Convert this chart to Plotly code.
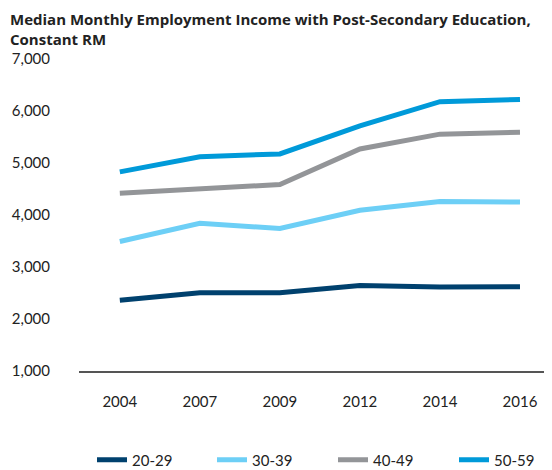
import plotly.graph_objects as go

years = ["2004", "2007", "2009", "2012", "2014", "2016"]
series_names = ["20-29", "30-39", "40-49", "50-59"]
age_20_29 = [2360, 2505, 2505, 2645, 2615, 2620]
age_30_39 = [3490, 3840, 3740, 4090, 4260, 4250]
age_40_49 = [4420, 4500, 4585, 5270, 5555, 5590]
age_50_59 = [4830, 5120, 5175, 5715, 6180, 6220]
y_ticks = [1000, 2000, 3000, 4000, 5000, 6000, 7000]
y_tick_labels = ["1,000", "2,000", "3,000", "4,000", "5,000", "6,000", "7,000"]
title_text = "<b>Median Monthly Employment Income with Post-Secondary Education,<br>Constant RM</b>"

colors = ["#00416e", "#6dcff6", "#939598", "#009ad9"]
values = [age_20_29, age_30_39, age_40_49, age_50_59]

FONT = "Lato"
TXT = "#222222"
# the page body has an 8px margin, so the figure is drawn 8px in from the top-left
W, H = 544, 462
L, R, T, B = 71, 0, 51, 99
plot_w = W - L - R
plot_h = H - T - B

legend_names = ["legend", "legend2", "legend3", "legend4"]
legend_x_px = [84, 204, 325, 446]

fig = go.Figure()
for name, vals, col, lg in zip(series_names, values, colors, legend_names):
    fig.add_trace(go.Scatter(
        x=years, y=vals, name=name, mode="lines",
        line=dict(color=col, width=5),
        legend=lg,
    ))

fig.add_annotation(
    text=title_text, showarrow=False,
    xref="paper", yref="paper",
    x=(1 - L) / plot_w, xanchor="left",
    y=1 + T / plot_h, yanchor="top",
    align="left", borderpad=0,
    font=dict(family="Open Sans", size=15, color=TXT),
)

legend_common = dict(
    orientation="h", xanchor="left",
    y=-(452 - (T + plot_h)) / plot_h, yanchor="middle",
    font=dict(family=FONT, size=15, color=TXT),
    bgcolor="rgba(0,0,0,0)",
)
layout_legends = {}
for lg, px in zip(legend_names, legend_x_px):
    layout_legends[lg] = dict(x=(px - L) / plot_w, **legend_common)

fig.update_layout(
    width=W, height=H,
    margin=dict(l=L, r=R, t=T, b=B, autoexpand=False),
    paper_bgcolor="white", plot_bgcolor="white",
    font=dict(family=FONT, size=15, color=TXT),
    showlegend=True,
    **layout_legends,
)

fig.update_xaxes(
    type="category", range=[-0.51, 5.4], automargin=False,
    showgrid=False, zeroline=False,
    showline=True, linecolor="#555555", linewidth=1.5,
    ticks="", ticklabelstandoff=16,
    tickfont=dict(family=FONT, size=15, color=TXT),
)
fig.update_yaxes(
    range=[1000, 7000], automargin=False,
    tickvals=y_ticks, ticktext=y_tick_labels,
    showgrid=False, zeroline=False, showline=False,
    ticks="", ticklabelstandoff=28,
    tickfont=dict(family=FONT, size=15, color=TXT),
)

fig.write_html("out.html")
